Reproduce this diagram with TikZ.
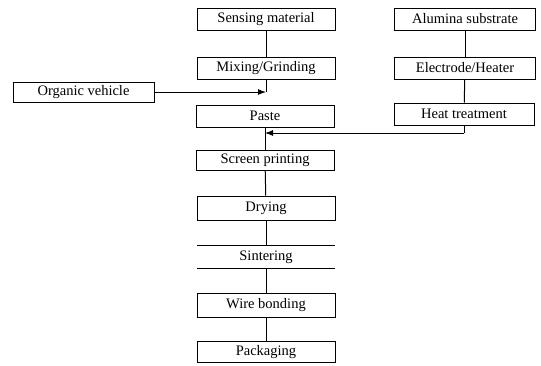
\documentclass[tikz,border=0pt]{standalone}
\usepackage{fontspec}
\setmainfont{Liberation Serif}
\usetikzlibrary{arrows.meta}
\begin{document}
\begin{tikzpicture}[x=1pt,y=-1pt,
  stepbox/.style={draw,line width=1pt,minimum width=138pt,minimum height=22pt,inner sep=0pt,
    font=\fontsize{14.5}{15}\selectfont},
  plainbox/.style={minimum width=138pt,minimum height=22pt,inner sep=0pt,
    font=\fontsize{14.5}{15}\selectfont},
  link/.style={line width=1pt},
  arr/.style={line width=1pt,-{Latex[length=8pt,width=6pt]}}]
\useasboundingbox (0,0) rectangle (541,365);
% left column
\node[stepbox] (sens) at (266,19) {Sensing material};
\node[stepbox] (mix)  at (266,68) {Mixing/Grinding};
\node[stepbox] (paste) at (265,116) {Paste};
\node[stepbox,minimum height=20pt] (scr) at (265,160) {Screen printing};
\node[stepbox,minimum height=24pt] (dry) at (266,208) {Drying};
\node[plainbox] (sint) at (266,257) {Sintering};
\node[stepbox,minimum height=24pt] (wire) at (266,305) {Wire bonding};
\node[stepbox,minimum height=21pt] (pack) at (266,352) {Packaging};
% right column
\node[stepbox,minimum width=141pt] (alu) at (465,19) {Alumina substrate};
\node[stepbox,minimum width=141pt] (elec) at (465,68) {Electrode/Heater};
\node[stepbox,minimum width=140pt] (heat) at (464,114) {Heat treatment};
% organic vehicle
\node[stepbox,minimum width=141pt,minimum height=20pt] (org) at (83.5,92) {Organic vehicle};
% sintering top/bottom rules
\draw[link] (sint.north west) -- (sint.north east);
\draw[link] (sint.south west) -- (sint.south east);
% junctions
\coordinate (j1) at (mix.south |- org.east);
\coordinate (j2) at (265,133);
\coordinate (hb) at (heat.south |- j2);
% connectors
\draw[link] (sens) -- (mix);
\draw[link] (mix.south) -- (j1);
\draw[arr] (org.east) -- (j1);
\draw[link] (paste) -- (scr);
\draw[link] (heat.south) -- (hb);
\draw[arr] (hb) -- (j2);
\draw[link] (scr) -- (dry);
\draw[link] (dry) -- (sint);
\draw[link] (sint) -- (wire);
\draw[link] (wire) -- (pack);
\draw[link] (alu) -- (elec);
\draw[link] (elec) -- (heat);
\end{tikzpicture}
\end{document}
